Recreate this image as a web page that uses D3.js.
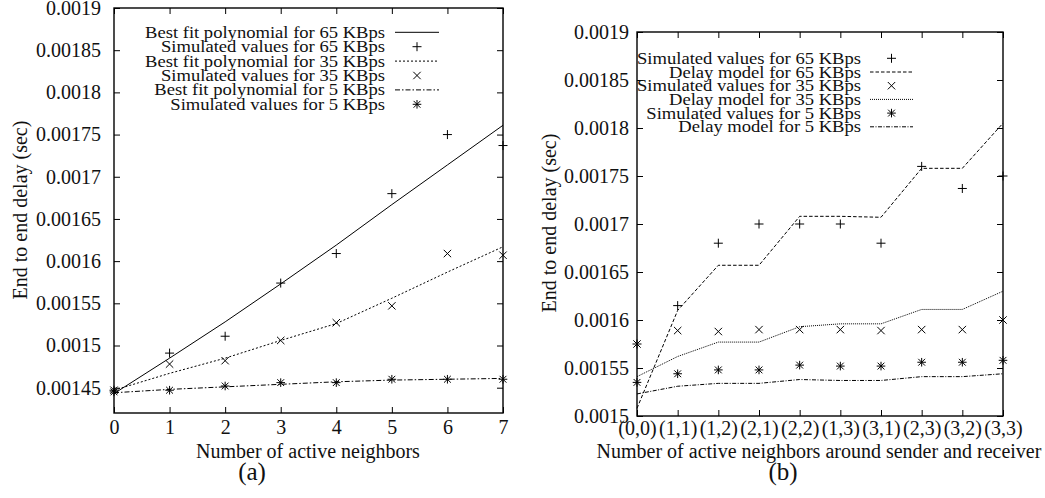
<!DOCTYPE html>
<html>
<head>
<meta charset="utf-8">
<script src="https://cdn.jsdelivr.net/npm/d3@7"></script>
<style>
  html, body { margin: 0; padding: 0; background: #fff; }
  svg { display: block; }
</style>
</head>
<body>
<div id="chart"></div>
<script>
/* ── Data ──────────────────────────────────────────────────────────── */
// Panel (a): delay vs number of active neighbours
const neighbors = [0, 1, 2, 3, 4, 5, 6, 7];
const sim65a = [0.001447, 0.001491, 0.001511, 0.001574, 0.001609, 0.00168, 0.00175, 0.001737];
const fit65a = [0.001443, 0.001485, 0.001528, 0.001573, 0.001619, 0.001667, 0.001714, 0.001761];
const sim35a = [0.001447, 0.001478, 0.001482, 0.001506, 0.001527, 0.001547, 0.001609, 0.001607];
const fit35a = [0.001447, 0.001467, 0.001485, 0.001506, 0.001526, 0.001556, 0.001587, 0.001617];
const sim5a  = [0.001445, 0.001447, 0.001452, 0.001456, 0.001456, 0.00146, 0.00146, 0.00146];
const fit5a  = [0.001444, 0.001448, 0.001451, 0.001454, 0.001457, 0.001459, 0.00146, 0.001461];
const yTicksA = [0.00145, 0.0015, 0.00155, 0.0016, 0.00165, 0.0017, 0.00175, 0.0018, 0.00185, 0.0019];

// Panel (b): delay vs (sender, receiver) neighbours
const pairs = ["(0,0)", "(1,1)", "(1,2)", "(2,1)", "(2,2)", "(1,3)", "(3,1)", "(2,3)", "(3,2)", "(3,3)"];
const sim65b   = [0.001575, 0.001615, 0.00168, 0.0017, 0.0017, 0.0017, 0.00168, 0.00176, 0.001737, 0.00175];
const model65b = [0.001508, 0.00161, 0.001657, 0.001657, 0.001708, 0.001708, 0.001707, 0.001758, 0.001758, 0.001805];
const sim35b   = [0.001575, 0.001589, 0.001588, 0.00159, 0.00159, 0.00159, 0.001589, 0.00159, 0.00159, 0.0016];
const model35b = [0.001541, 0.001562, 0.001577, 0.001577, 0.001593, 0.001596, 0.001596, 0.001611, 0.001611, 0.00163];
const sim5b    = [0.001535, 0.001544, 0.001548, 0.001548, 0.001553, 0.001552, 0.001552, 0.001556, 0.001556, 0.001558];
const model5b  = [0.001523, 0.001531, 0.001534, 0.001534, 0.001538, 0.001537, 0.001537, 0.001541, 0.001541, 0.001544];
const yTicksB = [0.0015, 0.00155, 0.0016, 0.00165, 0.0017, 0.00175, 0.0018, 0.00185, 0.0019];

const legendA = [
  { label: "Best fit polynomial for 65 KBps", kind: "line", dash: null },
  { label: "Simulated values for 65 KBps", kind: "plus" },
  { label: "Best fit polynomial for 35 KBps", kind: "line", dash: "2,2" },
  { label: "Simulated values for 35 KBps", kind: "cross" },
  { label: "Best fit polynomial for 5 KBps", kind: "line", dash: "5,2,1.5,2" },
  { label: "Simulated values for 5 KBps", kind: "star" }
];
const legendB = [
  { label: "Simulated values for 65 KBps", kind: "plus" },
  { label: "Delay model for 65 KBps", kind: "line", dash: "3.5,2" },
  { label: "Simulated values for 35 KBps", kind: "cross" },
  { label: "Delay model for 35 KBps", kind: "line", dash: "1,1" },
  { label: "Simulated values for 5 KBps", kind: "star" },
  { label: "Delay model for 5 KBps", kind: "line", dash: "4,1.5,1,1.5" }
];

/* ── Setup ─────────────────────────────────────────────────────────── */
const W = 1045, H = 498;
const FONT = "'Liberation Serif', 'Times New Roman', serif";

const svg = d3.select("#chart").append("svg")
  .attr("width", W).attr("height", H)
  .attr("viewBox", `0 0 ${W} ${H}`)
  .style("font-family", FONT);

const MARKERS = {
  plus:  "M-4.5,0H4.5M0,-4.5V4.5",
  cross: "M-3.7,-3.7L3.7,3.7M-3.7,3.7L3.7,-3.7",
  star:  "M-4.3,0H4.3M0,-4.3V4.3M-3.4,-3.4L3.4,3.4M-3.4,3.4L3.4,-3.4"
};

// draw one panel: frame, mirrored ticks, labels
function drawFrame(x, y, yTicks, opts) {
  const [x0, x1] = x.range();
  const [yb, yt] = y.range();
  const g = svg.append("g");

  const style = sel => {
    sel.select(".domain").remove();
    sel.selectAll("line").attr("stroke", "#000").attr("stroke-width", 1);
    sel.selectAll("text").attr("fill", "#111").style("font-size", "20px").style("font-family", FONT);
  };

  g.append("g").attr("transform", `translate(${x0},0)`)
    .call(d3.axisLeft(y).tickValues(yTicks).tickSize(-6).tickPadding(opts.yPad)
      .tickFormat(d => String(+d.toFixed(5))))
    .call(style);
  g.append("g").attr("transform", `translate(${x1},0)`)
    .call(d3.axisRight(y).tickValues(yTicks).tickSize(-6).tickFormat(""))
    .call(style);
  g.append("g").attr("transform", `translate(0,${yb})`)
    .call(d3.axisBottom(x).tickValues(opts.xTicks).tickSize(-6).tickPadding(opts.xPad)
      .tickFormat(d => String(d)))
    .call(style);
  g.append("g").attr("transform", `translate(0,${yt})`)
    .call(d3.axisTop(x).tickValues(opts.xTicks).tickSize(-6).tickFormat(""))
    .call(style);

  g.append("rect")
    .attr("x", x0).attr("y", yt).attr("width", x1 - x0).attr("height", yb - yt)
    .attr("fill", "none").attr("stroke", "#000").attr("stroke-width", 1.4);

  // axis titles
  svg.append("text")
    .attr("transform", `translate(${opts.yTitleX},${opts.yTitleY}) rotate(-90)`)
    .attr("text-anchor", "middle").style("font-size", "20px").attr("fill", "#111")
    .text("End to end delay (sec)");
  svg.append("text")
    .attr("x", opts.xTitleX).attr("y", 458)
    .attr("text-anchor", "middle").style("font-size", "20px").attr("fill", "#111")
    .text(opts.xTitle);
  svg.append("text")
    .attr("x", opts.tagX).attr("y", 480)
    .attr("text-anchor", "middle").style("font-size", "25px").attr("fill", "#111")
    .text(opts.tag);
}

function drawLine(x, y, xs, vals, dash) {
  svg.append("path")
    .datum(vals.map((v, i) => [xs[i], v]))
    .attr("fill", "none").attr("stroke", "#000").attr("stroke-width", 1)
    .attr("stroke-dasharray", dash)
    .attr("d", d3.line().x(d => x(d[0])).y(d => y(d[1])));
}

function drawPoints(x, y, xs, vals, kind) {
  svg.append("g").selectAll("path")
    .data(vals.map((v, i) => [xs[i], v]))
    .join("path")
    .attr("transform", d => `translate(${x(d[0])},${y(d[1])})`)
    .attr("d", MARKERS[kind])
    .attr("fill", "none").attr("stroke", "#000").attr("stroke-width", 1);
}

function drawLegend(items, textRight, sampleX0, sampleX1, rowY0, rowStep) {
  const rows = svg.append("g").selectAll("g")
    .data(items).join("g")
    .attr("transform", (d, i) => `translate(0,${rowY0 + i * rowStep})`);
  // glyphs in the reference are a bit flatter than the font, squash slightly
  rows.append("text")
    .attr("transform", `translate(${textRight},5.5) scale(1,0.86)`)
    .attr("text-anchor", "end").style("font-size", "18.6px").attr("fill", "#111")
    .text(d => d.label);
  rows.filter(d => d.kind === "line").append("line")
    .attr("x1", sampleX0).attr("x2", sampleX1)
    .attr("stroke", "#000").attr("stroke-width", 1)
    .attr("stroke-dasharray", d => d.dash);
  rows.filter(d => d.kind !== "line").append("path")
    .attr("transform", `translate(${(sampleX0 + sampleX1) / 2},0)`)
    .attr("d", d => MARKERS[d.kind])
    .attr("fill", "none").attr("stroke", "#000").attr("stroke-width", 1);
}

/* ── Panel (a) ─────────────────────────────────────────────────────── */
const xA = d3.scaleLinear().domain([0, 7]).range([114, 503]);
const yA = d3.scaleLinear().domain([0.00142, 0.0019]).range([413, 8]);

drawFrame(xA, yA, yTicksA, {
  xTicks: neighbors, yPad: 13, xPad: 7,
  yTitleX: 27, yTitleY: 210,
  xTitleX: 308, xTitle: "Number of active neighbors",
  tagX: 252, tag: "(a)"
});
drawLine(xA, yA, neighbors, fit65a, null);
drawLine(xA, yA, neighbors, fit35a, "2,2");
drawLine(xA, yA, neighbors, fit5a, "5,2,1.5,2");
drawPoints(xA, yA, neighbors, sim65a, "plus");
drawPoints(xA, yA, neighbors, sim35a, "cross");
drawPoints(xA, yA, neighbors, sim5a, "star");
drawLegend(legendA, 385, 395, 439, 32.3, 14.4);

/* ── Panel (b) ─────────────────────────────────────────────────────── */
const xB = d3.scalePoint().domain(pairs).range([637, 1003]);
const yB = d3.scaleLinear().domain([0.0015, 0.0019]).range([416, 32]);

drawFrame(xB, yB, yTicksB, {
  xTicks: pairs, yPad: 8, xPad: 5,
  yTitleX: 556, yTitleY: 223,
  xTitleX: 819, xTitle: "Number of active neighbors around sender and receiver",
  tagX: 783, tag: "(b)"
});
drawLine(xB, yB, pairs, model65b, "3.5,2");
drawLine(xB, yB, pairs, model35b, "1,1");
drawLine(xB, yB, pairs, model5b, "4,1.5,1,1.5");
drawPoints(xB, yB, pairs, sim65b, "plus");
drawPoints(xB, yB, pairs, sim35b, "cross");
drawPoints(xB, yB, pairs, sim5b, "star");
drawLegend(legendB, 861, 870, 913, 58.3, 13.7);
</script>
</body>
</html>
